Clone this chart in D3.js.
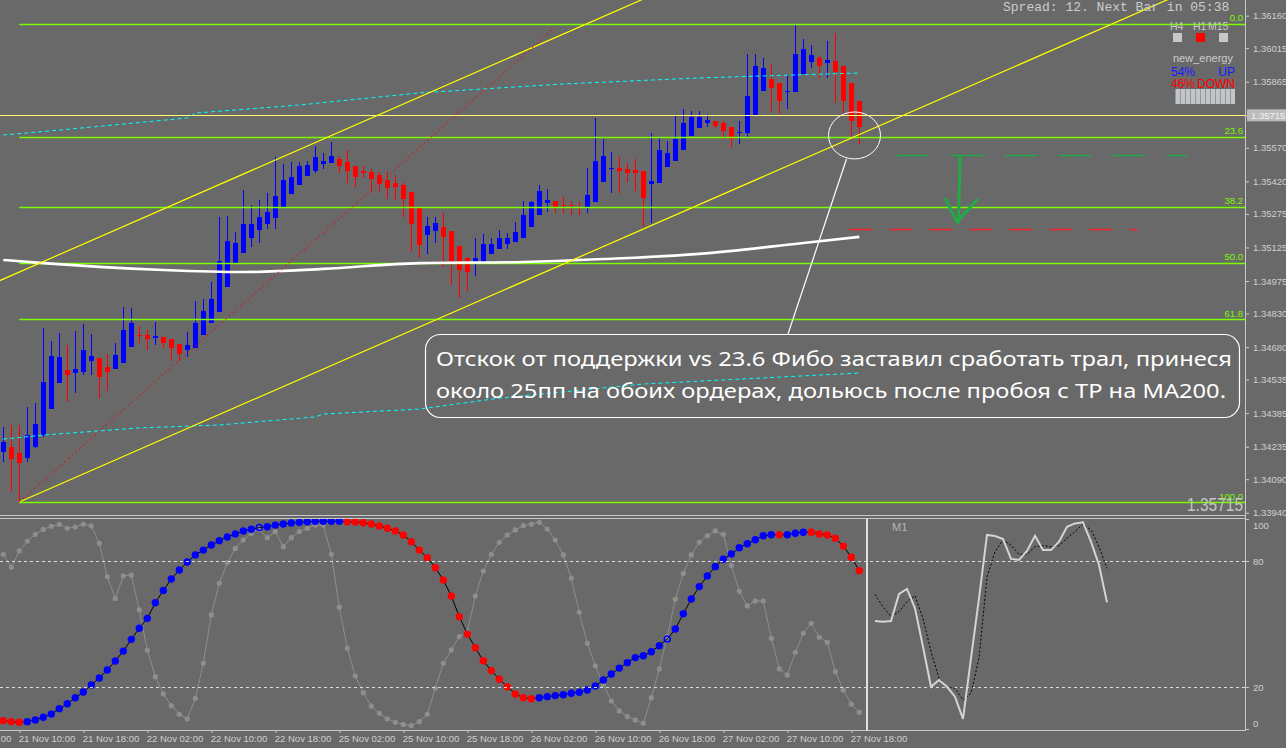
<!DOCTYPE html>
<html>
<head>
<meta charset="utf-8">
<script src="https://cdn.jsdelivr.net/npm/d3@7"></script>
<style>
  body{margin:0;background:#696969;overflow:hidden}
  svg{display:block;font-family:"Liberation Sans",Arial,sans-serif}
</style>
</head>
<body>
<svg id="chart"></svg>
<script>
// ---- EURUSD H1 candles, 21 Nov 08:00 .. 27 Nov 19:00
const barOpen = [1.34211,1.34234,1.34207,1.34185,1.34234,1.34287,1.34403,1.34520,1.34578,1.34564,1.34569,1.34618,1.34631,1.34591,1.34582,1.34609,1.34680,1.34734,1.34734,1.34720,1.34725,1.34716,1.34694,1.34667,1.34676,1.34734,1.34787,1.34837,1.34948,1.35055,1.35100,1.35167,1.35203,1.35230,1.35256,1.35306,1.35364,1.35404,1.35444,1.35466,1.35498,1.35502,1.35520,1.35507,1.35489,1.35466,1.35462,1.35448,1.35426,1.35413,1.35404,1.35373,1.35301,1.35180,1.35198,1.35216,1.35198,1.35131,1.35078,1.35051,1.35060,1.35096,1.35118,1.35140,1.35149,1.35167,1.35216,1.35270,1.35323,1.35332,1.35314,1.35314,1.35306,1.35306,1.35328,1.35417,1.35475,1.35480,1.35475,1.35471,1.35466,1.35408,1.35413,1.35484,1.35511,1.35560,1.35623,1.35658,1.35681,1.35690,1.35681,1.35663,1.35636,1.35636,1.35716,1.35824,1.35877,1.35859,1.35819,1.35819,1.35900,1.35953,1.35971,1.35949,1.35958,1.35935,1.35859,1.35779]
const barHigh = [1.34323,1.34332,1.34332,1.34412,1.34430,1.34765,1.34707,1.34743,1.34689,1.34752,1.34783,1.34738,1.34631,1.34649,1.34698,1.34859,1.34854,1.34774,1.34756,1.34792,1.34725,1.34716,1.34694,1.34747,1.34886,1.34895,1.34971,1.35261,1.35265,1.35194,1.35381,1.35314,1.35337,1.35368,1.35529,1.35498,1.35507,1.35507,1.35511,1.35578,1.35547,1.35596,1.35533,1.35560,1.35489,1.35489,1.35475,1.35462,1.35462,1.35448,1.35413,1.35373,1.35301,1.35261,1.35261,1.35279,1.35198,1.35131,1.35082,1.35167,1.35185,1.35167,1.35203,1.35189,1.35239,1.35332,1.35332,1.35404,1.35386,1.35332,1.35350,1.35332,1.35328,1.35480,1.35703,1.35609,1.35551,1.35529,1.35502,1.35520,1.35466,1.35636,1.35614,1.35600,1.35716,1.35743,1.35734,1.35734,1.35721,1.35690,1.35690,1.35663,1.35690,1.35989,1.35989,1.35971,1.35944,1.35859,1.35895,1.36118,1.36056,1.36029,1.35980,1.36047,1.36083,1.35935,1.35859,1.35779]
const barLow = [1.34167,1.34037,1.33988,1.34167,1.34229,1.34278,1.34403,1.34520,1.34435,1.34475,1.34555,1.34555,1.34453,1.34484,1.34582,1.34609,1.34680,1.34698,1.34667,1.34689,1.34676,1.34618,1.34618,1.34636,1.34676,1.34734,1.34787,1.34837,1.34948,1.35055,1.35100,1.35127,1.35145,1.35207,1.35207,1.35306,1.35364,1.35404,1.35444,1.35457,1.35475,1.35502,1.35457,1.35413,1.35395,1.35435,1.35373,1.35373,1.35341,1.35337,1.35261,1.35109,1.35078,1.35096,1.35145,1.35038,1.34957,1.34899,1.34930,1.34997,1.35060,1.35096,1.35118,1.35118,1.35149,1.35167,1.35216,1.35270,1.35283,1.35279,1.35279,1.35270,1.35270,1.35279,1.35328,1.35417,1.35368,1.35368,1.35417,1.35377,1.35216,1.35234,1.35413,1.35484,1.35511,1.35560,1.35623,1.35658,1.35663,1.35658,1.35609,1.35569,1.35587,1.35614,1.35716,1.35824,1.35730,1.35721,1.35743,1.35819,1.35900,1.35926,1.35882,1.35882,1.35770,1.35721,1.35623,1.35587]
const barClose = [1.34256,1.34180,1.34162,1.34287,1.34336,1.34524,1.34640,1.34636,1.34555,1.34582,1.34667,1.34640,1.34546,1.34569,1.34645,1.34756,1.34787,1.34729,1.34716,1.34729,1.34698,1.34676,1.34649,1.34689,1.34787,1.34841,1.34895,1.35064,1.35154,1.35145,1.35230,1.35230,1.35261,1.35283,1.35355,1.35426,1.35440,1.35489,1.35493,1.35529,1.35511,1.35533,1.35489,1.35466,1.35440,1.35457,1.35431,1.35408,1.35390,1.35395,1.35341,1.35230,1.35136,1.35221,1.35234,1.35172,1.35064,1.35024,1.35015,1.35078,1.35140,1.35140,1.35167,1.35167,1.35194,1.35270,1.35328,1.35377,1.35337,1.35301,1.35310,1.35310,1.35301,1.35359,1.35511,1.35533,1.35480,1.35466,1.35457,1.35457,1.35346,1.35422,1.35560,1.35547,1.35609,1.35681,1.35707,1.35707,1.35694,1.35667,1.35645,1.35609,1.35640,1.35801,1.35935,1.35926,1.35837,1.35779,1.35824,1.35989,1.36011,1.35984,1.35935,1.35962,1.35908,1.35779,1.35690,1.35663]

// ---- axes
const priceTicks = [1.36160,1.36015,1.35865,1.35715,1.35570,1.35420,1.35275,1.35125,1.34975,1.34830,1.34680,1.34535,1.34385,1.34235,1.34090,1.33940]
const timeTickBars = [-6,2,10,18,26,34,42,50,58,66,74,82,90,98,106]
const timeLabels = ['21 Nov 02:00','21 Nov 10:00','21 Nov 18:00','22 Nov 02:00','22 Nov 10:00','22 Nov 18:00','25 Nov 02:00','25 Nov 10:00','25 Nov 18:00','26 Nov 02:00','26 Nov 10:00','26 Nov 18:00','27 Nov 02:00','27 Nov 10:00','27 Nov 18:00']
const stochTicks = [0,20,80,100]
const stochLevels = [20,80]

// ---- chart objects
const fiboHigh = 1.36123
const fiboLow = 1.33988
const fiboStartBar = 2
const fiboLevels = [0,23.6,38.2,50,61.8,100]
const fiboLabels = ['0.0','23.6','38.2','50.0','61.8','100.0']
const channelStart = [2,1.33988]
const channelSlope = 0.0001563
const channelWidth = 0.01027
const trendLine = [[2,1.33988],[69,1.36109]]
const currentPrice = 1.35715

// ---- indicators
const envUpperBars = [0,7,23,24,37,52,70,87,107]
const envUpper = [1.35627,1.35649,1.35703,1.35725,1.35761,1.35815,1.35855,1.35882,1.35904]
const envLowerBars = [0,5,17,27,39,40,52,62,80,107]
const envLower = [1.34269,1.34287,1.34319,1.34332,1.34368,1.34381,1.34403,1.34452,1.34515,1.34564]
const ma200Bars = [0,5,12,20,30,40,52,65,75,87,100,107]
const ma200 = [1.35069,1.35055,1.35038,1.35024,1.35015,1.35029,1.35055,1.35060,1.35073,1.35096,1.35145,1.35172]

const stochSlow = [4.0,3.5,3.2,3.5,4.3,5.6,7.1,9.7,12.0,14.9,17.6,21.0,24.3,28.1,32.4,37.1,42.7,48.0,52.7,60.1,66.0,71.4,75.7,79.5,82.9,85.2,87.6,89.7,91.4,92.9,94.3,95.1,95.9,96.3,97.1,97.6,98.1,98.4,98.7,98.9,98.9,98.9,98.9,98.7,98.6,98.2,97.6,96.7,95.6,94.3,92.4,89.2,85.2,81.6,76.8,71.0,63.3,53.5,45.2,38.7,32.5,27.8,23.7,20.1,16.7,14.9,14.4,14.9,15.4,15.9,16.3,17.0,17.5,18.6,20.5,23.3,26.2,29.0,31.6,34.0,34.9,36.8,39.7,42.9,47.6,54.9,61.9,67.8,72.9,77.3,80.8,83.3,86.3,88.2,90.1,92.0,92.5,92.5,92.5,93.2,93.7,93.7,92.9,92.4,90.8,87.1,81.8,75.4]
const stochTrendRuns = [[3,'dn'],[40,'up'],[24,'dn'],[30,'up'],[1,'dn'],[3,'up'],[7,'dn']]
const stochHollow = [32,83]
const stochFast = [83.2,77.0,84.8,89.5,92.7,95.1,96.5,97.5,95.6,96.2,97.5,96.7,88.4,72.5,62.2,72.9,73.3,56.7,37.6,24.9,16.7,11.1,7.0,4.8,14.6,31.3,54.3,69.4,79.2,86.0,90.0,93.2,95.1,91.1,94.0,86.8,91.1,94.0,95.6,97.1,97.1,83.2,58.0,38.4,25.2,17.3,10.9,7.5,4.8,3.2,2.2,1.6,3.5,7.0,19.4,31.3,37.6,44.0,46.3,63.3,75.2,83.2,88.9,92.4,94.8,96.8,97.5,98.4,95.2,90.0,82.9,71.8,55.6,40.8,30.1,21.0,13.3,8.6,5.9,4.3,2.7,14.9,28.6,44.0,61.8,74.1,82.9,88.9,92.0,94.3,92.7,77.8,65.7,58.6,61.0,61.0,43.2,28.6,25.7,36.5,45.6,50.3,43.7,41.3,27.3,18.6,11.8,8.0]

const m1Main = [51.4,51.1,51.4,64.3,66.7,57.5,39.2,20.1,23.3,20.1,15.4,4.8,33.7,62.2,92.4,91.9,90.5,81.0,80.5,84.8,92.0,85.2,85.2,89.2,96.3,97.9,98.4,89.2,78.1,60.3]
const m1Signal = [64.1,58.2,53.5,55.9,60.6,63.5,52.7,36.8,24.1,20.1,19.4,13.8,17.0,33.7,72.5,84.4,90.0,87.6,83.2,83.2,86.8,87.3,86.8,87.3,90.8,94.0,97.5,94.8,86.8,76.5]

// ---- hand drawn trade plan
const tpGreen = {price:1.35536, from:111.7, to:148}
const tpRed = {price:1.35205, from:105.8, to:141.8}
const circleAt = {bar:106.4, price:1.35625}
const noteLines = ['Отскок от поддержки vs 23.6 Фибо заставил сработать трал, принеся',
                   'около 25пп на обоих ордерах, дольюсь после пробоя с ТР на МА200.']

const W = 1286, H = 748
const axisX = 1245
const mainBottom = 515
const subTop = 519, subBottom = 729
const splitX = 866
const grid = '#c8c8c8'

const svg = d3.select('#chart').attr('width',W).attr('height',H)
svg.append('rect').attr('width',W).attr('height',H).attr('fill','#696969')

let x = d3.scaleLinear().domain([0,107]).range([3.3,859.3])
let y = d3.scaleLinear().domain([1.33930,1.36230]).range([mainBottom,0])
let ys = d3.scaleLinear().domain([0,100]).range([subBottom,subTop])
let xm = d3.scaleLinear().domain([0,29]).range([875,1107])

const defs = svg.append('defs')
defs.append('clipPath').attr('id','clipMain').append('rect')
  .attr('x',0).attr('y',0).attr('width',axisX).attr('height',mainBottom)
defs.append('clipPath').attr('id','clipSub').append('rect')
  .attr('x',0).attr('y',subTop).attr('width',splitX).attr('height',subBottom - subTop)

// ================= main window
const main = svg.append('g').attr('clip-path','url(#clipMain)')

// candles
const idx = d3.range(barOpen.length)
const candles = main.append('g').attr('shape-rendering','crispEdges')
candles.selectAll('line').data(idx).enter().append('line')
  .attr('x1',i => Math.round(x(i)) + 0.5)
  .attr('x2',i => Math.round(x(i)) + 0.5)
  .attr('y1',i => y(barHigh[i]))
  .attr('y2',i => y(barLow[i]))
  .attr('stroke',i => barClose[i] >= barOpen[i] ? '#0000ff' : '#ff0000')
candles.selectAll('rect').data(idx).enter().append('rect')
  .attr('x',i => Math.round(x(i)) - 2)
  .attr('width',5)
  .attr('y',i => y(Math.max(barOpen[i],barClose[i])))
  .attr('height',i => Math.max(1, Math.abs(y(barOpen[i]) - y(barClose[i]))))
  .attr('fill',i => barClose[i] >= barOpen[i] ? '#0000ff' : '#ff0000')

// fibonacci
const fiboPrice = l => fiboHigh - (fiboHigh - fiboLow) * l / 100
main.selectAll('.fibo').data(fiboLevels).enter().append('line')
  .attr('class','fibo')
  .attr('x1',x(fiboStartBar)).attr('x2',axisX)
  .attr('y1',d => Math.round(y(fiboPrice(d))) + 0.5)
  .attr('y2',d => Math.round(y(fiboPrice(d))) + 0.5)
  .attr('stroke','#7cfc00').attr('stroke-width',1.3)
main.selectAll('.fibolbl').data(fiboLevels).enter().append('text')
  .attr('class','fibolbl')
  .attr('x',axisX - 2).attr('y',d => y(fiboPrice(d)) - 2.5)
  .attr('text-anchor','end').attr('font-size',9.5)
  .attr('fill','#7cfc00')
  .text((d,i) => fiboLabels[i])

// current price level
main.append('line')
  .attr('x1',0).attr('x2',axisX)
  .attr('y1',Math.round(y(currentPrice)) + 0.5).attr('y2',Math.round(y(currentPrice)) + 0.5)
  .attr('stroke','#ffff70').attr('stroke-width',1)

// envelope of the long MA
const pline = d3.line().x(d => x(d[0])).y(d => y(d[1]))
main.append('path').datum(envUpperBars.map((b,i) => [b,envUpper[i]]))
  .attr('d',pline).attr('fill','none').attr('stroke','#00ffff').attr('stroke-dasharray','4,3')
main.append('path').datum(envLowerBars.map((b,i) => [b,envLower[i]]))
  .attr('d',pline).attr('fill','none').attr('stroke','#00ffff').attr('stroke-dasharray','4,3')

// MA200
main.append('path').datum(ma200Bars.map((b,i) => [b,ma200[i]]))
  .attr('d',pline.curve(d3.curveMonotoneX)).attr('fill','none')
  .attr('stroke','#ffffff').attr('stroke-width',2.6)
pline.curve(d3.curveLinear)

// equidistant channel
const chanAt = (b,off) => [b, channelStart[1] + channelSlope * (b - channelStart[0]) + off]
main.append('path').datum([chanAt(channelStart[0],0),chanAt(200,0)])
  .attr('d',pline).attr('fill','none').attr('stroke','#ffff00').attr('stroke-width',1.2)
main.append('path').datum([chanAt(-2,channelWidth),chanAt(200,channelWidth)])
  .attr('d',pline).attr('fill','none').attr('stroke','#ffff00').attr('stroke-width',1.2)

// trend line
main.append('path').datum(trendLine)
  .attr('d',pline).attr('fill','none').attr('stroke','#ff0000').attr('stroke-dasharray','2,3')

// trade plan drawings
main.append('line')
  .attr('x1',x(tpGreen.from)).attr('x2',x(tpGreen.to))
  .attr('y1',y(tpGreen.price)).attr('y2',y(tpGreen.price))
  .attr('stroke','#1faa4a').attr('stroke-width',1.5).attr('stroke-dasharray','32,22')
main.append('line')
  .attr('x1',x(tpRed.from)).attr('x2',x(tpRed.to))
  .attr('y1',y(tpRed.price)).attr('y2',y(tpRed.price))
  .attr('stroke','#ff2020').attr('stroke-width',1.5).attr('stroke-dasharray','22,18')

const arrow = d3.line()
main.append('path')
  .attr('d',arrow([[x(119.6),y(1.35529)],[x(119.4),y(1.35239)]]) + arrow([[x(117.8),y(1.35341)],[x(119.2),y(1.35239)],[x(121.7),y(1.35337)]]))
  .attr('fill','none').attr('stroke','#22aa44').attr('stroke-width',3)
  .attr('stroke-linejoin','round').attr('stroke-linecap','round')

main.append('ellipse')
  .attr('cx',x(circleAt.bar)).attr('cy',y(circleAt.price))
  .attr('rx',26).attr('ry',23.5)
  .attr('fill','none').attr('stroke','#ffffff')

// callout
const note = svg.append('g')
note.append('line')
  .attr('x1',x(circleAt.bar) - 8).attr('y1',y(circleAt.price) + 23.5)
  .attr('x2',788).attr('y2',334)
  .attr('stroke','#ffffff').attr('stroke-width',1.2)
note.append('rect')
  .attr('x',425.5).attr('y',334.5).attr('width',814).attr('height',83).attr('rx',15)
  .attr('fill','none').attr('stroke','#ffffff').attr('stroke-width',1.2)
note.selectAll('text').data(noteLines).enter().append('text')
  .attr('x',436).attr('y',(d,i) => 366 + i * 32)
  .attr('font-family','"Noto Sans","Open Sans",sans-serif').attr('font-size',20)
  .attr('fill','#ffffff')
  .attr('textLength',(d,i) => i === 0 ? 796 : 790).attr('lengthAdjust','spacingAndGlyphs')
  .text(d => d)

// ================= sub window
const sub = svg.append('g').attr('clip-path','url(#clipSub)')

svg.append('g').selectAll('line').data(stochLevels).enter().append('line')
  .attr('x1',0).attr('x2',axisX)
  .attr('y1',d => Math.round(ys(d)) + 0.5).attr('y2',d => Math.round(ys(d)) + 0.5)
  .attr('stroke','#dcdcdc').attr('stroke-dasharray','3,3')

const sline = d3.line().x((d,i) => x(i)).y(d => ys(d))
sub.append('path').datum(stochFast).attr('d',sline)
  .attr('fill','none').attr('stroke','#8e8e8e').attr('stroke-width',1)
sub.selectAll('.fdot').data(stochFast).enter().append('circle')
  .attr('class','fdot')
  .attr('cx',(d,i) => x(i)).attr('cy',d => ys(d)).attr('r',2.6)
  .attr('fill','#8e8e8e')

const trend = []
stochTrendRuns.forEach(([n,t]) => { for (let k = 0; k < n; k++) trend.push(t) })
sub.append('path').datum(stochSlow).attr('d',sline)
  .attr('fill','none').attr('stroke','#000000').attr('stroke-width',1)
sub.selectAll('.sdot').data(stochSlow).enter().append('circle')
  .attr('class','sdot')
  .attr('cx',(d,i) => x(i)).attr('cy',d => ys(d))
  .attr('r',(d,i) => stochHollow.includes(i) ? 3 : 3.7)
  .attr('fill',(d,i) => stochHollow.includes(i) ? 'none' : (trend[i] === 'up' ? '#0000ff' : '#ff0000'))
  .attr('stroke',(d,i) => stochHollow.includes(i) ? '#0000ff' : 'none')
  .attr('stroke-width',1.5)

// M1 panel
const m1line = d3.line().x((d,i) => xm(i)).y(d => ys(d))
svg.append('path').datum(m1Signal).attr('d',m1line)
  .attr('fill','none').attr('stroke','#000000').attr('stroke-width',1).attr('stroke-dasharray','2,2')
svg.append('path').datum(m1Main).attr('d',m1line)
  .attr('fill','none').attr('stroke','#d4d4d4').attr('stroke-width',2)
svg.append('text').attr('x',892).attr('y',531).attr('font-size',11).attr('fill','#b4b4b4').text('M1')

// ================= frame
const frame = svg.append('g').attr('shape-rendering','crispEdges').attr('stroke',grid)
frame.append('line').attr('x1',0).attr('x2',axisX).attr('y1',515.5).attr('y2',515.5)
frame.append('line').attr('x1',0).attr('x2',axisX).attr('y1',518.5).attr('y2',518.5)
frame.append('line').attr('x1',0).attr('x2',axisX).attr('y1',730.5).attr('y2',730.5)
frame.append('line').attr('x1',axisX + 0.5).attr('x2',axisX + 0.5).attr('y1',0).attr('y2',731)
frame.append('line').attr('x1',splitX + 0.5).attr('x2',splitX + 0.5).attr('y1',subTop).attr('y2',731)
  .attr('stroke','#e0e0e0').attr('stroke-width',2)

// price axis
const yAxis = d3.axisRight(y).tickValues(priceTicks).tickFormat(d3.format('.5f')).tickSize(3).tickPadding(4)
const yAxisG = svg.append('g').attr('transform',`translate(${axisX + 1},0)`).call(yAxis)
yAxisG.select('.domain').remove()
yAxisG.selectAll('line').attr('stroke',grid)
yAxisG.selectAll('text').attr('fill','#cfcfcf').attr('font-size',9.5).attr('font-family','"Liberation Sans",Arial,sans-serif')

// current price tag
svg.append('rect').attr('x',axisX + 2).attr('y',y(currentPrice) - 6).attr('width',W - axisX - 2).attr('height',12).attr('fill','#bcbcbc')
svg.append('text').attr('x',axisX + 6).attr('y',y(currentPrice)).attr('dy','0.35em')
  .attr('font-size',9.5).attr('fill','#f4f4f4').text(d3.format('.5f')(currentPrice))

// stochastic axis
const sAxis = d3.axisRight(ys).tickValues(stochTicks).tickSize(3).tickPadding(4)
const sAxisG = svg.append('g').attr('transform',`translate(${axisX + 1},0)`).call(sAxis)
sAxisG.select('.domain').remove()
sAxisG.selectAll('line').attr('stroke',grid)
sAxisG.selectAll('text').attr('fill','#cfcfcf').attr('font-size',9.5).attr('font-family','"Liberation Sans",Arial,sans-serif')
  .attr('dy',d => d === 100 ? '1.0em' : d === 0 ? '-0.25em' : '0.35em')

// time axis
const xAxis = d3.axisBottom(x).tickValues(timeTickBars).tickFormat((d,i) => timeLabels[i]).tickSize(3).tickPadding(2)
const xAxisG = svg.append('g').attr('transform','translate(0,730)').call(xAxis)
xAxisG.select('.domain').remove()
xAxisG.selectAll('line').attr('stroke',grid)
xAxisG.selectAll('text').attr('text-anchor','start').attr('x',-1)
  .attr('fill','#cfcfcf').attr('font-size',9.5).attr('font-family','"Liberation Sans",Arial,sans-serif')

// ================= info panel, top right
svg.append('text').attr('x',1003).attr('y',11)
  .attr('font-family','"Liberation Mono","DejaVu Sans Mono",monospace').attr('font-size',13)
  .attr('fill','#cccccc').text('Spread: 12. Next Bar in 05:38')

const tfNames = ['H4','H1','M15']
const tfColors = ['#c8c8c8','#ff0000','#c8c8c8']
const tfText = [1170,1193,1208]
const tfBox = [1173,1196,1219]
svg.selectAll('.tf').data(tfNames).enter().append('text').attr('class','tf')
  .attr('x',(d,i) => tfText[i]).attr('y',30).attr('font-size',10.5).attr('fill','#c8c8c8').text(d => d)
svg.selectAll('.tfbox').data(tfColors).enter().append('rect').attr('class','tfbox')
  .attr('x',(d,i) => tfBox[i]).attr('y',33).attr('width',9).attr('height',9).attr('fill',d => d)

svg.append('text').attr('x',1173).attr('y',62).attr('font-size',11).attr('fill','#cccccc').text('new_energy')
svg.append('text').attr('x',1171).attr('y',76).attr('font-size',12).attr('fill','#1a1aff').text('54%')
svg.append('text').attr('x',1235).attr('y',76).attr('text-anchor','end').attr('font-size',12).attr('fill','#1a1aff').text('UP')
svg.append('text').attr('x',1171).attr('y',88).attr('font-size',12).attr('fill','#ff0000').text('46%')
svg.append('text').attr('x',1235).attr('y',88).attr('text-anchor','end').attr('font-size',12).attr('fill','#ff0000').text('DOWN')
svg.append('rect').attr('x',1175).attr('y',89).attr('width',60).attr('height',15).attr('fill','#c4c4c4')
svg.append('g').selectAll('line').data(d3.range(12)).enter().append('line')
  .attr('x1',d => 1175.5 + d * 5).attr('x2',d => 1175.5 + d * 5)
  .attr('y1',89).attr('y2',104).attr('stroke','#8a98aa')

// big bid label
svg.append('text').attr('x',1243).attr('y',511).attr('text-anchor','end')
  .attr('font-size',19).attr('fill','#c4c4c4').attr('textLength',56).attr('lengthAdjust','spacingAndGlyphs')
  .text(d3.format('.5f')(currentPrice))
</script>
</body>
</html>
